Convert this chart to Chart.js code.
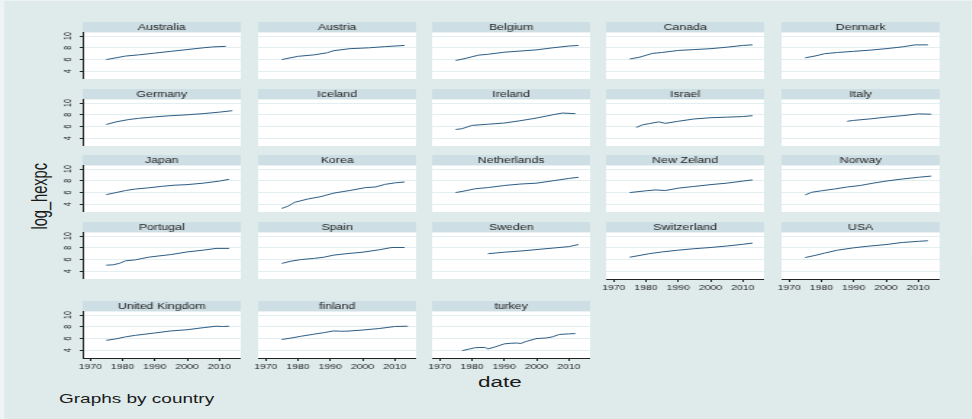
<!DOCTYPE html>
<html>
<head>
<meta charset="utf-8">
<title>log_hexpc by country</title>
<script src="https://cdn.jsdelivr.net/npm/chart.js@4.4.1/dist/chart.umd.min.js"></script>
<style>
    html, body { margin: 0; padding: 0; }
    body { width: 972px; height: 419px; overflow: hidden; background: #eef4f4; }
    #stage { position: absolute; left: 0; top: 0; height: 419px; transform-origin: 0 0; font-family: "Liberation Sans", Arial, sans-serif; }
    #region { position: absolute; top: 1px; right: 0; bottom: 0; background: #dfebeb; }
    .panel { position: absolute; }
    .lbl { position: absolute; color: #1a1a1a; white-space: nowrap; line-height: 1; }
</style>
</head>
<body>
<div id="stage">
    <div id="region"></div>
    <div class="lbl" id="ytitle">log_hexpc</div>
    <div class="lbl" id="xtitle">date</div>
    <div class="lbl" id="note">Graphs by country</div>
</div>
<script>
// Axis setup
var xTicks = [1970, 1980, 1990, 2000, 2010];
var yTicks = [4, 6, 8, 10];
var xRange = [1967.7, 2016.6];
var yRange = [2.7, 10.6];

// Panels, in reading order
var countries = ['Australia', 'Austria', 'Belgium', 'Canada', 'Denmark',
    'Germany', 'Iceland', 'Ireland', 'Israel', 'Italy',
    'Japan', 'Korea', 'Netherlands', 'New Zeland', 'Norway',
    'Portugal', 'Spain', 'Sweden', 'Switzerland', 'USA',
    'United Kingdom', 'finland', 'turkey'];

// [year, log_hexpc]
var australia = [[1975, 6.0], [1978, 6.3], [1981, 6.6], [1985, 6.8], [1990, 7.1], [1995, 7.4], [2000, 7.7], [2005, 8.0], [2008, 8.15], [2012, 8.25]];
var austria = [[1975, 6.0], [1980, 6.55], [1985, 6.8], [1989, 7.15], [1991, 7.5], [1996, 7.85], [2002, 8.0], [2007, 8.2], [2013, 8.4]];
var belgium = [[1975, 5.85], [1978, 6.2], [1982, 6.75], [1985, 6.9], [1990, 7.25], [1995, 7.45], [2000, 7.65], [2005, 8.0], [2010, 8.3], [2013, 8.4]];
var canada = [[1975, 6.1], [1978, 6.4], [1982, 7.05], [1985, 7.2], [1990, 7.55], [1995, 7.7], [2000, 7.85], [2005, 8.1], [2010, 8.4], [2013, 8.5]];
var denmark = [[1975, 6.3], [1978, 6.6], [1981, 7.0], [1985, 7.2], [1990, 7.4], [1995, 7.6], [2000, 7.85], [2005, 8.15], [2009, 8.5], [2013, 8.5]];
var germany = [[1975, 6.35], [1978, 6.8], [1982, 7.2], [1985, 7.4], [1990, 7.65], [1995, 7.85], [2000, 8.0], [2005, 8.2], [2010, 8.45], [2014, 8.7]];
var iceland = [];
var ireland = [[1975, 5.5], [1977, 5.65], [1980, 6.2], [1985, 6.4], [1990, 6.6], [1995, 7.0], [2000, 7.45], [2005, 8.0], [2008, 8.3], [2012, 8.2]];
var israel = [[1977, 5.85], [1979, 6.3], [1981, 6.5], [1984, 6.8], [1986, 6.55], [1990, 6.9], [1995, 7.3], [2000, 7.5], [2005, 7.6], [2010, 7.7], [2013, 7.85]];
var italy = [[1988, 6.9], [1990, 7.05], [1995, 7.3], [2000, 7.6], [2005, 7.85], [2010, 8.15], [2014, 8.1]];
var japan = [[1975, 5.65], [1978, 6.0], [1981, 6.35], [1984, 6.6], [1988, 6.8], [1992, 7.05], [1996, 7.25], [2000, 7.35], [2005, 7.6], [2010, 7.95], [2013, 8.25]];
var korea = [[1975, 3.3], [1977, 3.7], [1979, 4.35], [1983, 4.9], [1987, 5.3], [1991, 5.9], [1996, 6.35], [2001, 6.85], [2004, 6.95], [2007, 7.4], [2010, 7.65], [2013, 7.8]];
var netherlands = [[1975, 6.0], [1978, 6.3], [1981, 6.65], [1985, 6.85], [1990, 7.2], [1995, 7.45], [2000, 7.6], [2005, 8.0], [2010, 8.4], [2013, 8.6]];
var newZeland = [[1975, 6.0], [1980, 6.3], [1983, 6.45], [1986, 6.35], [1990, 6.75], [1995, 7.05], [2000, 7.35], [2005, 7.6], [2010, 7.95], [2013, 8.15]];
var norway = [[1975, 5.6], [1977, 6.05], [1980, 6.3], [1984, 6.6], [1988, 6.95], [1992, 7.2], [1996, 7.6], [2000, 7.95], [2005, 8.3], [2010, 8.6], [2014, 8.8]];
var portugal = [[1975, 5.05], [1977, 5.1], [1979, 5.35], [1981, 5.8], [1984, 5.95], [1988, 6.4], [1991, 6.6], [1995, 6.85], [2000, 7.3], [2005, 7.6], [2009, 7.9], [2013, 7.9]];
var spain = [[1975, 5.35], [1978, 5.75], [1981, 6.0], [1985, 6.2], [1988, 6.4], [1991, 6.75], [1995, 7.0], [2000, 7.25], [2005, 7.65], [2009, 8.05], [2013, 8.05]];
var sweden = [[1985, 7.0], [1990, 7.25], [1995, 7.45], [2000, 7.7], [2005, 7.95], [2010, 8.2], [2013, 8.55]];
var switzerland = [[1975, 6.4], [1978, 6.7], [1981, 7.0], [1985, 7.3], [1990, 7.6], [1995, 7.85], [2000, 8.05], [2005, 8.3], [2010, 8.6], [2013, 8.8]];
var usa = [[1975, 6.35], [1978, 6.7], [1981, 7.1], [1985, 7.6], [1990, 8.0], [1995, 8.3], [2000, 8.55], [2005, 8.9], [2010, 9.1], [2013, 9.2]];
var unitedKingdom = [[1975, 5.7], [1978, 5.95], [1981, 6.3], [1984, 6.55], [1987, 6.75], [1990, 6.95], [1995, 7.3], [2000, 7.5], [2005, 7.85], [2009, 8.1], [2011, 8.05], [2013, 8.1]];
var finland = [[1975, 5.85], [1978, 6.1], [1981, 6.4], [1985, 6.75], [1988, 7.0], [1991, 7.3], [1993, 7.25], [1995, 7.25], [2000, 7.45], [2005, 7.7], [2010, 8.05], [2014, 8.1]];
var turkey = [[1977, 3.95], [1979, 4.2], [1981, 4.45], [1984, 4.5], [1985, 4.25], [1987, 4.55], [1990, 5.1], [1992, 5.2], [1994, 5.25], [1995, 5.15], [1997, 5.55], [2000, 6.0], [2003, 6.1], [2005, 6.3], [2007, 6.7], [2010, 6.8], [2012, 6.85]];

var series = [australia, austria, belgium, canada, denmark,
    germany, iceland, ireland, israel, italy,
    japan, korea, netherlands, newZeland, norway,
    portugal, spain, sweden, switzerland, usa,
    unitedKingdom, finland, turkey];

// Layout (the source image is stretched sideways, so the stage is squeezed and scaled back)
var STRETCH = 1.45;
var colLeft = [83, 257.5, 432, 606.5, 781];
var rowTop = [22, 88.5, 155, 222, 300.7];
var panelW = 158, headH = 10.5, plotH = 46, axisW = 30, axisH = 14;
var FONT = '"Liberation Sans", Arial, sans-serif';
var LINE = '#2c5c84', STRIP = '#cddee4', GRID = '#e3eef0', INK = '#222222';

var stage = document.getElementById('stage');
stage.style.width = (972 / STRETCH) + 'px';
stage.style.transform = 'scaleX(' + STRETCH + ')';
document.getElementById('region').style.left = (4 / STRETCH) + 'px';

function place(id, left, top, size, extra) {
    var el = document.getElementById(id);
    el.style.left = left + 'px';
    el.style.top = top + 'px';
    el.style.fontSize = size + 'px';
    if (extra) Object.assign(el.style, extra);
}
place('ytitle', 40.5 / STRETCH - 50, 196 - 7.3, 14.6, { width: '100px', textAlign: 'center', transform: 'rotate(-90deg)' });
place('xtitle', 500 / STRETCH - 40, 373.6, 15.5, { width: '80px', textAlign: 'center' });
place('note', 59 / STRETCH, 391.9, 13.1);

// Strip behind the panel title and white plot area
var panelBack = {
    id: 'panelBack',
    beforeDraw: function (chart) {
        var a = chart.chartArea, ctx = chart.ctx;
        ctx.save();
        ctx.fillStyle = STRIP;
        ctx.fillRect(a.left, 0, a.right - a.left, a.top);
        ctx.fillStyle = '#ffffff';
        ctx.fillRect(a.left, a.top, a.right - a.left, a.bottom - a.top);
        ctx.restore();
    }
};

// Stata writes the y tick labels turned a quarter, reading upwards
var yLabels = {
    id: 'yLabels',
    afterDraw: function (chart, args, opts) {
        if (!opts.show) return;
        var ys = chart.scales.y, ctx = chart.ctx;
        var x = chart.chartArea.left - 10.1;
        ctx.save();
        ctx.fillStyle = INK;
        ctx.font = '7px ' + FONT;
        ctx.textAlign = 'center';
        ctx.textBaseline = 'middle';
        yTicks.forEach(function (v) {
            ctx.save();
            ctx.translate(x, ys.getPixelForValue(v));
            ctx.rotate(-Math.PI / 2);
            ctx.fillText(String(v), 0, 0);
            ctx.restore();
        });
        ctx.restore();
    }
};

function makePanel(idx) {
    var r = Math.floor(idx / 5), c = idx % 5;
    var showY = c === 0;
    var showX = idx >= 18;
    var plotW = panelW / STRETCH;
    var boxW = Math.ceil(plotW + axisW / STRETCH);
    var padL = boxW - plotW;
    var boxH = Math.round(headH + plotH + (showX ? axisH : 0));

    var box = document.createElement('div');
    box.className = 'panel';
    box.style.left = (colLeft[c] / STRETCH - padL) + 'px';
    box.style.top = rowTop[r] + 'px';
    var canvas = document.createElement('canvas');
    canvas.width = boxW;
    canvas.height = boxH;
    canvas.style.width = boxW + 'px';
    canvas.style.height = boxH + 'px';
    box.appendChild(canvas);
    stage.appendChild(box);

    new Chart(canvas, {
        type: 'line',
        data: {
            datasets: [{
                data: series[idx].map(function (p) { return { x: p[0], y: p[1] }; }),
                borderColor: LINE,
                borderWidth: 1,
                pointRadius: 0,
                tension: 0
            }]
        },
        options: {
            responsive: false,
            devicePixelRatio: 1,
            animation: false,
            events: [],
            layout: { padding: 0 },
            plugins: {
                legend: { display: false },
                tooltip: { enabled: false },
                yLabels: { show: showY },
                title: {
                    display: true,
                    text: countries[idx],
                    fullSize: false,
                    color: INK,
                    font: { family: FONT, size: 8.5, weight: 'normal', lineHeight: 1.2 },
                    padding: { top: 0.3, bottom: 0 }
                }
            },
            scales: {
                x: {
                    type: 'linear',
                    display: showX,
                    min: xRange[0],
                    max: xRange[1],
                    afterBuildTicks: function (s) { s.ticks = xTicks.map(function (v) { return { value: v }; }); },
                    afterFit: function (s) { s.height = showX ? axisH : 0; },
                    border: { display: true, color: INK, width: 1 },
                    grid: { drawOnChartArea: false, drawTicks: true, tickLength: 3, tickColor: INK },
                    ticks: {
                        color: INK, padding: 1.5, maxRotation: 0, autoSkip: false,
                        font: { family: FONT, size: 7.2 },
                        callback: function (v) { return String(v); }
                    }
                },
                y: {
                    type: 'linear',
                    min: yRange[0],
                    max: yRange[1],
                    afterBuildTicks: function (s) { s.ticks = yTicks.map(function (v) { return { value: v }; }); },
                    afterFit: function (s) { s.width = padL; },
                    border: { display: showY, color: INK, width: 1 },
                    grid: { color: GRID, lineWidth: 1, drawTicks: showY, tickLength: 2, tickColor: INK },
                    ticks: { display: false }
                }
            }
        },
        plugins: [panelBack, yLabels]
    });
}

for (var i = 0; i < countries.length; i++) {
    makePanel(i);
}
</script>
</body>
</html>
